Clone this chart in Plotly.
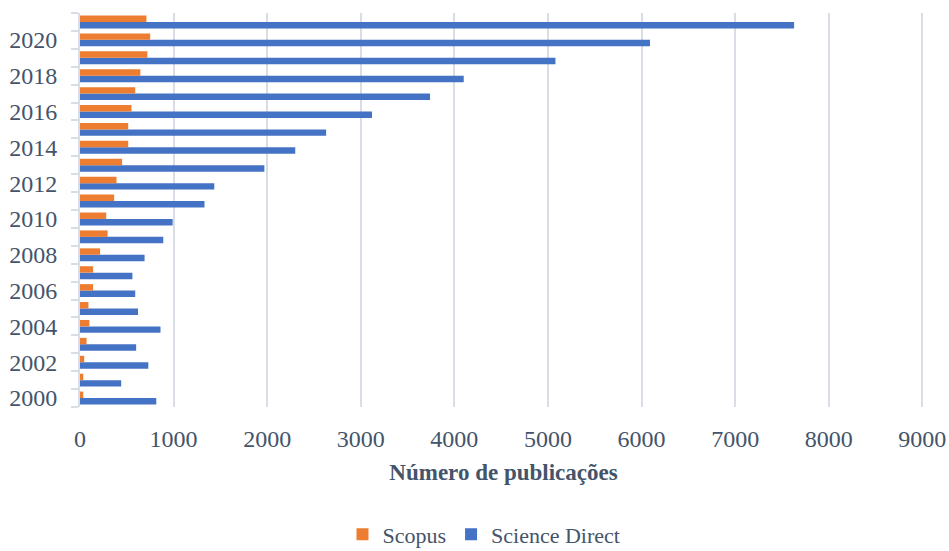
import plotly.graph_objects as go

years = list(range(2000, 2022))
scopus = [35, 35, 45, 70, 100, 90, 140, 140, 215, 295, 280,
          365, 390, 450, 515, 515, 550, 590, 645, 720, 750, 710]
science_direct = [815, 440, 730, 600, 860, 620, 590, 560, 690, 890, 990,
                  1330, 1435, 1970, 2300, 2630, 3120, 3740, 4100, 5080, 6090, 7630]
x_ticks = [0, 1000, 2000, 3000, 4000, 5000, 6000, 7000, 8000, 9000]
y_labels = list(range(2000, 2021, 2))

FONT = "Liberation Serif, Times New Roman, serif"
TXT = "#44546A"

fig = go.Figure()
fig.add_trace(go.Bar(
    y=years, x=science_direct, orientation="h", name="Science Direct",
    marker=dict(color="#4472C4", line=dict(width=0)), legendrank=2,
))
fig.add_trace(go.Bar(
    y=years, x=scopus, orientation="h", name="Scopus",
    marker=dict(color="#ED7D31", line=dict(width=0)), legendrank=1,
))

fig.update_layout(
    width=949, height=551,
    margin=dict(l=80, r=22, t=13, b=144, autoexpand=False),
    paper_bgcolor="white", plot_bgcolor="white",
    barmode="group", bargap=0.28, bargroupgap=0,
    font=dict(family=FONT, color=TXT, size=23),
    showlegend=True,
    legend=dict(
        orientation="h", xref="container", yref="container",
        x=0.51, xanchor="center", y=0.03, yanchor="middle",
        font=dict(family=FONT, size=22, color=TXT),
        itemwidth=30, tracegroupgap=0,
    ),
)
fig.update_xaxes(
    range=[0, 9050], tickvals=x_ticks, ticktext=[str(v) for v in x_ticks],
    showgrid=True, gridcolor="#D9DDE5", gridwidth=2,
    zeroline=False, showline=False, ticks="", automargin=False,
    ticklabelstandoff=15,
    tickfont=dict(family=FONT, size=24, color=TXT),
    title=dict(text="<b>Número de publicações</b>", standoff=12,
               font=dict(family=FONT, size=23, color=TXT)),
)
fig.update_yaxes(
    range=[1999.5, 2021.5], tickvals=y_labels, ticktext=[str(v) for v in y_labels],
    showgrid=False, zeroline=False, automargin=False,
    showline=True, linecolor="#D9DDE5", linewidth=2,
    ticks="", ticklabelstandoff=16,
    tickfont=dict(family=FONT, size=24, color=TXT),
    minor=dict(tickvals=[y - 0.5 for y in years] + [2021.5], ticks="outside",
               ticklen=7, tickcolor="#D9DDE5", tickwidth=2, showgrid=False),
)

fig.write_html("out.html")
